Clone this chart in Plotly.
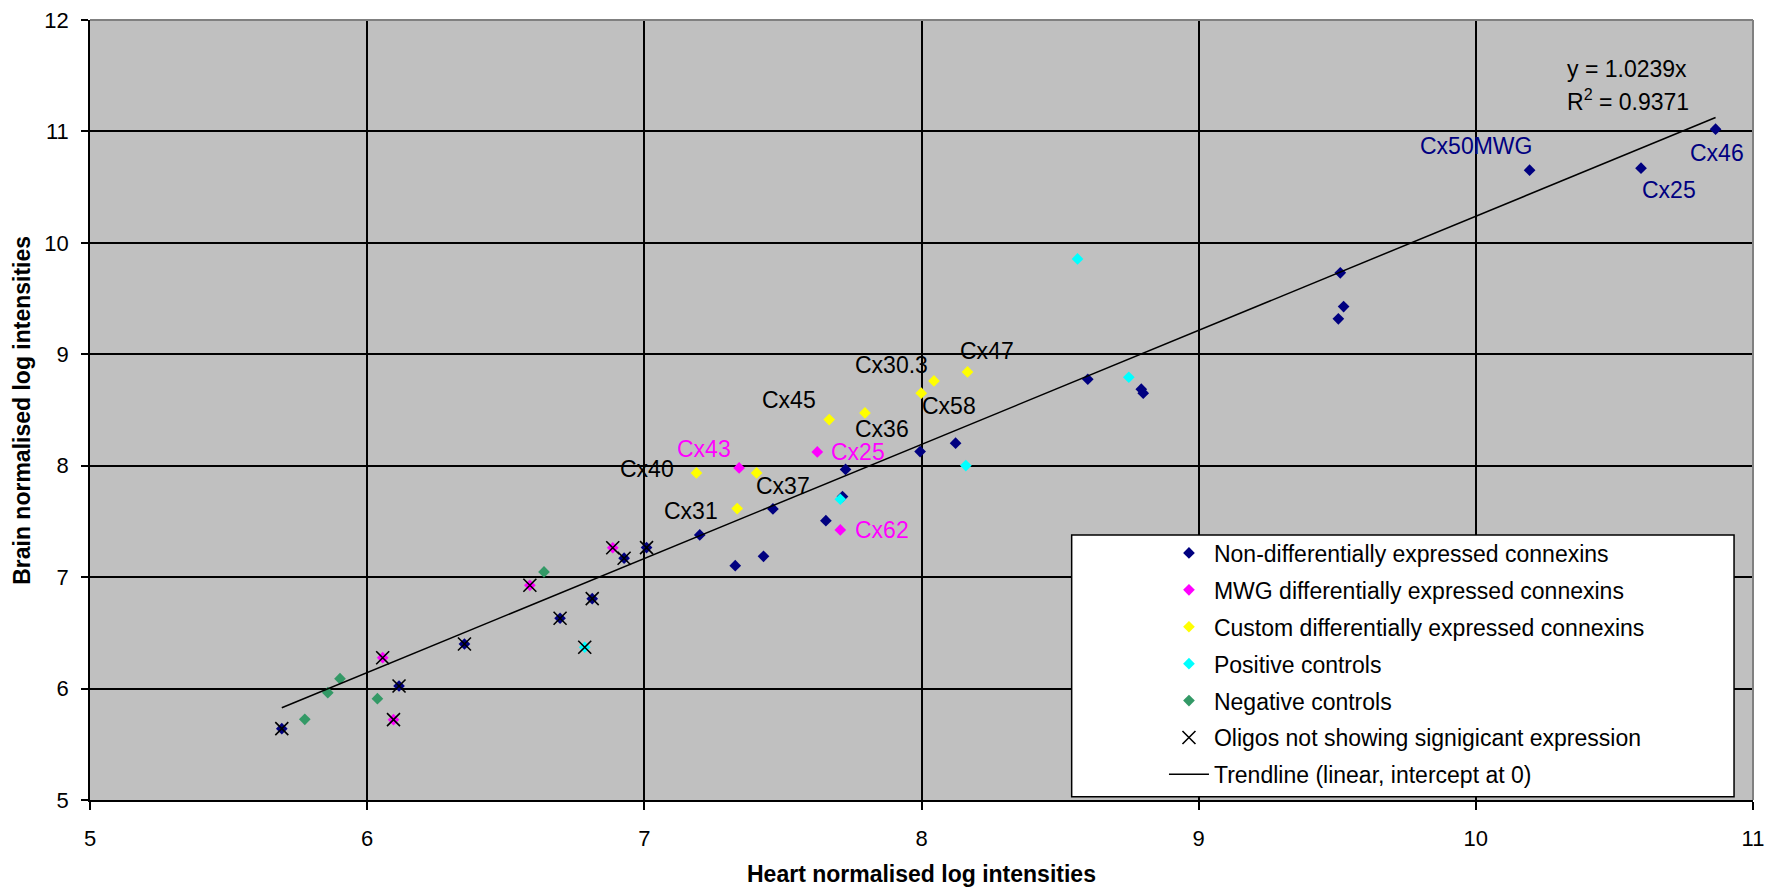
import plotly.graph_objects as go

# ---------------- data ----------------
nondiff_x = [10.865, 10.194, 10.596, 9.511, 9.523, 9.504, 8.600, 8.793, 8.800, 7.995,
             8.123, 7.726, 7.715, 7.655, 7.464, 7.200, 7.328, 7.430, 5.692, 6.115,
             6.351, 6.696, 6.812, 6.927, 7.008]
nondiff_y = [11.020, 10.652, 10.670, 9.731, 9.428, 9.318, 8.776, 8.687, 8.651, 8.127,
             8.202, 7.967, 7.723, 7.507, 7.612, 7.379, 7.103, 7.187, 5.640, 6.023,
             6.400, 6.631, 6.807, 7.170, 7.265]

mwg_x = [7.342, 7.624, 7.707, 6.056, 6.095, 6.587, 6.886]
mwg_y = [7.980, 8.124, 7.424, 6.277, 5.721, 6.927, 7.264]

custom_x = [7.188, 7.405, 7.335, 7.667, 7.796, 7.999, 8.045, 8.166]
custom_y = [7.935, 7.935, 7.615, 8.414, 8.474, 8.651, 8.761, 8.842]

pos_x = [8.563, 8.748, 8.160, 7.707, 6.785]
pos_y = [9.856, 8.794, 8.001, 7.699, 6.371]

neg_x = [5.775, 5.858, 5.902, 6.037, 6.638]
neg_y = [5.724, 5.963, 6.089, 5.909, 7.047]

nosig_x = [5.692, 6.056, 6.095, 6.115, 6.351, 6.587, 6.696, 6.785, 6.812, 6.886, 6.927, 7.008]
nosig_y = [5.640, 6.277, 5.721, 6.023, 6.400, 6.927, 6.631, 6.371, 6.807, 7.264, 7.170, 7.265]

trend_slope = 1.0239
trend_r2 = 0.9371

# point labels: (text, series, index in series)
point_labels = [
    ("Cx46", "nondiff", 0), ("Cx50MWG", "nondiff", 1), ("Cx25", "nondiff", 2),
    ("Cx43", "mwg", 0), ("Cx25", "mwg", 1), ("Cx62", "mwg", 2),
    ("Cx40", "custom", 0), ("Cx37", "custom", 1), ("Cx31", "custom", 2),
    ("Cx45", "custom", 3), ("Cx36", "custom", 4), ("Cx58", "custom", 5),
    ("Cx30.3", "custom", 6), ("Cx47", "custom", 7),
]

x_ticks = [5, 6, 7, 8, 9, 10, 11]
y_ticks = [5, 6, 7, 8, 9, 10, 11, 12]

# ---------------- styles ----------------
FONT = "Arial, 'Liberation Sans', sans-serif"
NAVY, MAGENTA, YELLOW, CYAN, GREEN = "#000080", "#FF00FF", "#FFFF00", "#00FFFF", "#339966"
series = {
    "nondiff": (nondiff_x, nondiff_y, NAVY, "Non-differentially expressed connexins"),
    "mwg": (mwg_x, mwg_y, MAGENTA, "MWG differentially expressed connexins"),
    "custom": (custom_x, custom_y, YELLOW, "Custom differentially expressed connexins"),
    "pos": (pos_x, pos_y, CYAN, "Positive controls"),
    "neg": (neg_x, neg_y, GREEN, "Negative controls"),
}
label_color = {"nondiff": NAVY, "mwg": MAGENTA, "custom": "black"}
label_shift = {  # pixel offsets of label centre from its point
    ("nondiff", 0): (1, -24), ("nondiff", 1): (-54, 24), ("nondiff", 2): (28, -22),
    ("mwg", 0): (-35, 19), ("mwg", 1): (41, 0), ("mwg", 2): (42, 0),
    ("custom", 0): (-49, 4), ("custom", 1): (26, -13), ("custom", 2): (-46, -2),
    ("custom", 3): (-40, 20), ("custom", 4): (17, -16), ("custom", 5): (28, -13),
    ("custom", 6): (-42, 16), ("custom", 7): (19, 21),
}
TXT = 23

fig = go.Figure()
for key, (xs, ys, col, name) in series.items():
    fig.add_trace(go.Scatter(
        x=xs, y=ys, mode="markers", name=name, legendgroup=key,
        marker=dict(symbol="diamond", size=9, color=col, line=dict(width=0)),
    ))

fig.add_trace(go.Scatter(
    x=nosig_x, y=nosig_y, mode="markers", name="Oligos not showing signigicant expression",
    legendgroup="nosig",
    marker=dict(symbol="x-thin-open", size=13, color="black", line=dict(width=1.6, color="black")),
))

all_x = nondiff_x + mwg_x + custom_x + pos_x + neg_x
trend_x = [min(all_x), max(all_x)]
trend_y = [trend_slope * v for v in trend_x]
fig.add_trace(go.Scatter(
    x=trend_x, y=trend_y, mode="lines", name="Trendline (linear, intercept at 0)",
    legendgroup="trend", line=dict(color="black", width=1.5),
))

annotations = []
for text, key, idx in point_labels:
    xs, ys, _, _ = series[key]
    dx, dy = label_shift[(key, idx)]
    annotations.append(dict(
        x=xs[idx], y=ys[idx], xref="x", yref="y", text=text, showarrow=False,
        xshift=dx, yshift=dy, font=dict(family=FONT, size=TXT, color=label_color[key]),
    ))

annotations += [
    dict(x=0.8870, y=0.9372, xref="paper", yref="paper", xanchor="left", yanchor="middle",
         text=f"y = {trend_slope}x", showarrow=False, font=dict(family=FONT, size=TXT, color="black")),
    dict(x=0.8870, y=0.8974, xref="paper", yref="paper", xanchor="left", yanchor="middle",
         text=f"R<sup>2</sup> = {trend_r2}", showarrow=False, font=dict(family=FONT, size=TXT, color="black")),
    dict(x=0.5, y=-0.0949, xref="paper", yref="paper", xanchor="center", yanchor="middle",
         text="<b>Heart normalised log intensities</b>", showarrow=False,
         font=dict(family=FONT, size=23, color="black")),
    dict(x=-0.0410, y=0.5, xref="paper", yref="paper", xanchor="center", yanchor="middle",
         textangle=-90, text="<b>Brain normalised log intensities</b>", showarrow=False,
         font=dict(family=FONT, size=23, color="black")),
]

shapes = [
    dict(type="line", xref="paper", yref="paper", x0=0, x1=1, y0=1, y1=1,
         line=dict(color="#808080", width=2)),
    dict(type="line", xref="paper", yref="paper", x0=1, x1=1, y0=0, y1=1,
         line=dict(color="#808080", width=2)),
    dict(type="rect", xref="paper", yref="paper", x0=0.5903, x1=0.9886, y0=0.0042, y1=0.3397,
         fillcolor="white", line=dict(color="black", width=1.5), layer="above"),
]

fig.update_layout(
    width=1769, height=890,
    margin=dict(l=90, r=16, t=20, b=90, autoexpand=False),
    paper_bgcolor="white", plot_bgcolor="#C0C0C0",
    font=dict(family=FONT, size=22, color="black"),
    annotations=annotations, shapes=shapes,
    showlegend=True,
    legend=dict(x=0.6458, y=0.3442, xanchor="left", yanchor="top",
                bgcolor="rgba(0,0,0,0)", borderwidth=0,
                font=dict(family=FONT, size=TXT, color="black"),
                tracegroupgap=4, itemwidth=40),
)
fig.update_xaxes(range=[5, 11], tickvals=x_ticks, ticktext=[str(t) for t in x_ticks],
                 showgrid=True, gridcolor="black", gridwidth=1.6, zeroline=False,
                 showline=True, linecolor="black", linewidth=1.6, automargin=False,
                 ticks="outside", ticklen=8, tickcolor="black", tickwidth=1.5,
                 ticklabelstandoff=10, tickfont=dict(size=22))
fig.update_yaxes(range=[5, 12], tickvals=y_ticks, ticktext=[str(t) for t in y_ticks],
                 showgrid=True, gridcolor="black", gridwidth=1.6, zeroline=False,
                 showline=True, linecolor="black", linewidth=1.6, automargin=False,
                 ticks="outside", ticklen=7, tickcolor="black", tickwidth=1.5,
                 ticklabelstandoff=8, tickfont=dict(size=22))

fig.write_html("out.html", config={"displayModeBar": False},
               post_script="document.body.style.margin='0';")
